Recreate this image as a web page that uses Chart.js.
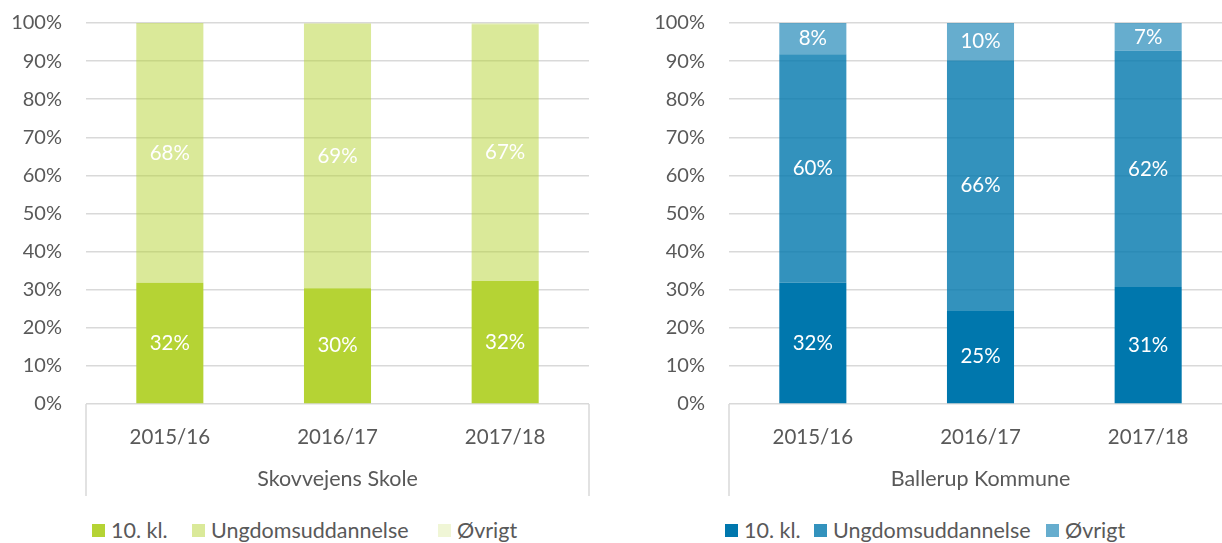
<!DOCTYPE html>
<html>
<head>
<meta charset="utf-8">
<script src="https://cdn.jsdelivr.net/npm/chart.js@4/dist/chart.umd.min.js"></script>
<style>
  html, body { margin: 0; padding: 0; background: #fff; overflow: hidden; width: 1222px; height: 543px; }
  .panel { position: absolute; top: -13px; height: 513px; }
  .item { position: absolute; top: 517px; display: flex; align-items: center;
          font-family: Lato, sans-serif; font-size: 21.5px; color: #595959; white-space: nowrap; }
  .item span.box { display: inline-block; width: 13px; height: 13px; margin-right: 6px; }
</style>
</head>
<body>
<div class="panel" style="left:0px;width:600px"><canvas id="graf1"></canvas></div>
<div class="panel" style="left:640px;width:600px"><canvas id="graf2"></canvas></div>
<div id="legend1"></div>
<div id="legend2"></div>
<script>
// Kategorier og serier
const aar = ["2015/16", "2016/17", "2017/18"];
const serier = ["10. kl.", "Ungdomsuddannelse", "Øvrigt"];
const yTicks = [0, 10, 20, 30, 40, 50, 60, 70, 80, 90, 100];

// Skovvejens Skole (%)
const skole10kl = [31.8, 30.4, 32.3];
const skoleUngdom = [68.2, 69.4, 67.4];
const skoleOevrigt = [0, 0.2, 0.3];

// Ballerup Kommune (%)
const kommune10kl = [31.8, 24.6, 30.7];
const kommuneUngdom = [60.0, 65.6, 62.0];
const kommuneOevrigt = [8.2, 9.8, 7.3];

const groen = ['rgba(181,211,52,1)', 'rgba(181,211,52,0.5)', 'rgba(181,211,52,0.2)'];
const blaa = ['rgba(0,119,173,1)', 'rgba(0,119,173,0.8)', 'rgba(0,119,173,0.6)'];

const FONT = 'Lato, sans-serif';
const GRAA = '#595959';
const GITTER = '#D9D9D9';

// Labels midt i segmenterne
const segmentLabels = {
    id: 'segmentLabels',
    afterDatasetsDraw(chart) {
        const ctx = chart.ctx;
        ctx.save();
        ctx.font = '20.5px ' + FONT;
        ctx.fillStyle = '#fff';
        ctx.textAlign = 'center';
        ctx.textBaseline = 'middle';
        chart.data.datasets.forEach((ds, i) => {
            chart.getDatasetMeta(i).data.forEach((bar, j) => {
                const v = ds.data[j];
                if (v < 3) return;
                const y = (bar.y + bar.base) / 2;
                ctx.fillText(Math.round(v) + '%', bar.x, y);
            });
        });
        ctx.restore();
    }
};

// Kassen rundt om kategoriaksen
const kategoriKasse = {
    id: 'kategoriKasse',
    afterDraw(chart) {
        const a = chart.chartArea;
        const ctx = chart.ctx;
        ctx.save();
        ctx.strokeStyle = GITTER;
        ctx.lineWidth = 1.5;
        ctx.beginPath();
        ctx.moveTo(a.left, a.bottom);
        ctx.lineTo(a.left, a.bottom + 92);
        ctx.moveTo(a.right, a.bottom);
        ctx.lineTo(a.right, a.bottom + 92);
        ctx.stroke();
        ctx.restore();
    }
};

function lavGraf(id, titel, data, farver, yBredde, hoejre) {
    const ctx = document.getElementById(id).getContext('2d');
    return new Chart(ctx, {
        type: 'bar',
        data: {
            labels: aar,
            datasets: serier.map((navn, i) => ({
                label: navn,
                data: data[i],
                backgroundColor: farver[i],
                borderWidth: 0,
                categoryPercentage: 0.4,
                barPercentage: 1
            }))
        },
        options: {
            responsive: true,
            maintainAspectRatio: false,
            animation: false,
            layout: { padding: { top: 10, right: hoejre, left: 0, bottom: 0 } },
            plugins: { legend: { display: false }, tooltip: { enabled: false } },
            scales: {
                x: {
                    stacked: true,
                    grid: { display: false, drawTicks: false },
                    border: { display: false },
                    ticks: { color: GRAA, font: { family: FONT, size: 20.5 }, padding: 21 },
                    title: { display: true, text: titel, color: GRAA,
                             font: { family: FONT, size: 21.5 }, padding: { top: 0, bottom: 8 } },
                    afterFit: (s) => { s.height = 96; }
                },
                y: {
                    stacked: true,
                    min: 0, max: 100,
                    afterBuildTicks: (s) => { s.ticks = yTicks.map(v => ({ value: v })); },
                    grid: { color: GITTER, lineWidth: 1.5, drawTicks: false },
                    border: { display: false },
                    ticks: { color: GRAA, font: { family: FONT, size: 20 }, padding: 24,
                             callback: (v) => v + '%' },
                    afterFit: (s) => { s.width = yBredde; }
                }
            }
        },
        plugins: [segmentLabels, kategoriKasse]
    });
}

function lavLegend(id, farver, xPos) {
    const el = document.getElementById(id);
    serier.forEach((navn, i) => {
        const item = document.createElement('div');
        item.className = 'item';
        item.style.left = xPos[i] + 'px';
        const box = document.createElement('span');
        box.className = 'box';
        box.style.background = farver[i];
        item.appendChild(box);
        item.appendChild(document.createTextNode(navn));
        el.appendChild(item);
    });
}

lavGraf('graf1', 'Skovvejens Skole', [skole10kl, skoleUngdom, skoleOevrigt], groen, 86, 11);
lavGraf('graf2', 'Ballerup Kommune', [kommune10kl, kommuneUngdom, kommuneOevrigt], blaa, 89, 8);
lavLegend('legend1', groen, [92, 192, 438]);
lavLegend('legend2', blaa, [725, 814, 1046]);
</script>
</body>
</html>
